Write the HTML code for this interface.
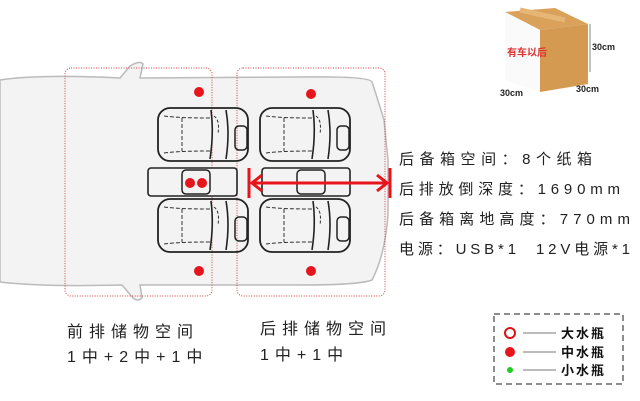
<!DOCTYPE html>
<html><head><meta charset="utf-8"><style>
html,body{margin:0;padding:0;background:#fff;width:640px;height:401px;overflow:hidden}
svg text{font-family:"Liberation Sans","Noto Sans CJK SC",sans-serif}
</style></head><body>
<svg width="640" height="401" viewBox="0 0 640 401" xmlns="http://www.w3.org/2000/svg">
<defs>
<g id="seat">
  <rect x="0" y="0" width="90" height="53" rx="12" fill="none" stroke="#222" stroke-width="1.8"/>
  <path d="M53 2 Q56 25 52 51 M68 2 Q72 25 68 51" fill="none" stroke="#222" stroke-width="1.6"/>
  <path d="M6 8 Q20 10 52 10 M6 45 Q20 43 52 43 M24 10 V43" fill="none" stroke="#333" stroke-width="1" stroke-dasharray="4,2"/>
  <rect x="77" y="18" width="12" height="24" rx="4" fill="none" stroke="#222" stroke-width="1.5"/>
  <path d="M56 8 Q62 12 60 26" fill="none" stroke="#333" stroke-width="1" stroke-dasharray="3,2"/>
</g>
</defs>
<path d="M0 80 Q40 74 120 78 L130 66 Q140 60 143 64 L140 78 L300 77 Q370 76 372 82 Q378 100 384 120 L388 160 L388 215 Q385 255 372 280 Q360 285 300 285 L140 285 L142 298 Q138 302 133 298 L122 285 Q40 287 0 282 Z" fill="#f3f3f3" stroke="#bbb" stroke-width="1.5"/>
<rect x="65" y="68" width="147" height="228" rx="6" fill="none" stroke="#d04040" stroke-width="1" stroke-dasharray="1,1.5"/>
<rect x="237" y="68" width="148" height="228" rx="6" fill="none" stroke="#d04040" stroke-width="1" stroke-dasharray="1,1.5"/>
<use href="#seat" x="158" y="108"/>
<use href="#seat" x="158" y="199"/>
<use href="#seat" x="260" y="108"/>
<use href="#seat" x="260" y="199"/>
<rect x="148" y="168" width="89" height="28" rx="3" fill="#f3f3f3" stroke="#222" stroke-width="1.6"/>
<rect x="182" y="170" width="28" height="24" rx="4" fill="none" stroke="#222" stroke-width="1.5"/>
<rect x="262" y="168" width="88" height="28" rx="3" fill="none" stroke="#222" stroke-width="1.6"/>
<rect x="297" y="170" width="28" height="24" rx="4" fill="none" stroke="#222" stroke-width="1.5"/>
<g fill="#e8141b">
<circle cx="199" cy="92" r="5"/><circle cx="311" cy="94" r="5"/>
<circle cx="199" cy="271" r="5"/><circle cx="311" cy="271" r="5"/>
<circle cx="190" cy="183" r="5"/><circle cx="202" cy="183" r="5"/>
</g>
<g stroke="#e8141b" stroke-width="3" fill="none">
<path d="M249 168 V198 M390 168 V198 M252 183 H387 M262 175 L252 183 L262 191 M377 175 L387 183 L377 191"/>
</g>
<polygon points="505,12 555,8 588,24 540,30" fill="#d9a15a"/>
<polygon points="505,12 540,30 540,92 505,80" fill="#fafafa"/>
<polygon points="540,30 588,24 588,84 540,92" fill="#d49a52"/>
<path d="M520 10 L565 20" stroke="#e6b676" stroke-width="5"/>
<text x="507" y="56" font-size="10" fill="#d33" font-weight="bold">有车以后</text>
<path d="M590 24 V72" stroke="#888" stroke-width="1"/>
<text x="592" y="50" font-size="9" font-weight="bold" fill="#222">30cm</text>
<text x="500" y="96" font-size="9" font-weight="bold" fill="#222">30cm</text>
<text x="576" y="92" font-size="9" font-weight="bold" fill="#222">30cm</text>
<g font-size="15" fill="#222">
<text x="399" y="164" textLength="193" lengthAdjust="spacing">后备箱空间：8个纸箱</text>
<text x="399" y="194" textLength="221" lengthAdjust="spacing">后排放倒深度：1690mm</text>
<text x="399" y="224" textLength="231" lengthAdjust="spacing">后备箱离地高度：770mm</text>
<text x="399" y="254" textLength="231" lengthAdjust="spacing" xml:space="preserve">电源：USB*1  12V电源*1</text>
</g>
<g font-size="16" fill="#222" letter-spacing="6">
<text x="67" y="337">前排储物空间</text>
<text x="67" y="362">1中+2中+1中</text>
<text x="260" y="334">后排储物空间</text>
<text x="260" y="360">1中+1中</text>
</g>
<rect x="494" y="314" width="129" height="70" fill="none" stroke="#666" stroke-width="1.5" stroke-dasharray="6,4"/>
<circle cx="510" cy="333" r="5" fill="#fff" stroke="#d11" stroke-width="2"/>
<circle cx="510" cy="352" r="5" fill="#e8141b"/>
<circle cx="510" cy="370" r="3" fill="#2c2"/>
<path d="M523 333 H556 M523 352 H556 M523 370 H556" stroke="#777" stroke-width="1"/>
<g font-size="13" font-weight="bold" fill="#111" letter-spacing="2">
<text x="561" y="338">大水瓶</text>
<text x="561" y="357">中水瓶</text>
<text x="561" y="375">小水瓶</text>
</g>
</svg>
</body></html>
